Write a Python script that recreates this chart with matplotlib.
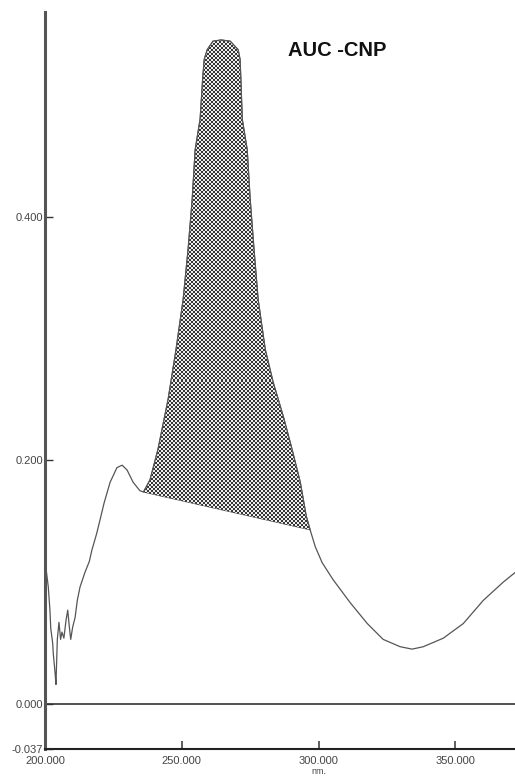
import numpy as np
import matplotlib.pyplot as plt
from matplotlib.patches import Polygon

# spectrum (nm, absorbance)
wavelength = [200.0, 201.2, 201.8, 202.1, 202.8, 203.0, 203.7, 204.0, 204.5, 205.1,
              205.7, 206.2, 206.9, 207.7, 208.3, 208.9, 209.4, 210.1, 211.0, 211.8,
              212.8, 214.6, 216.2, 217.1, 218.9, 220.1, 221.6, 223.8, 226.3, 228.2,
              230.0, 232.2, 234.7, 236.0, 238.4, 241.3, 245.0, 247.9, 250.5, 252.3,
              253.8, 254.9, 256.7, 257.6, 258.2, 259.3, 261.4, 264.4, 267.7, 270.6,
              271.3, 271.6, 272.1, 273.9, 275.0, 276.4, 277.9, 280.5, 283.4, 287.1,
              290.3, 293.3, 295.5, 296.9, 298.8, 301.3, 305.3, 311.6, 317.8, 323.6,
              329.8, 334.2, 338.3, 345.6, 352.9, 360.2, 367.5, 371.9]
absorbance = [0.118, 0.096, 0.077, 0.062, 0.050, 0.042, 0.025, 0.016, 0.053, 0.067,
              0.053, 0.059, 0.054, 0.069, 0.077, 0.063, 0.053, 0.063, 0.071, 0.085,
              0.096, 0.108, 0.117, 0.126, 0.140, 0.151, 0.165, 0.182, 0.194, 0.196,
              0.192, 0.182, 0.175, 0.174, 0.184, 0.209, 0.250, 0.291, 0.332, 0.373,
              0.414, 0.455, 0.480, 0.512, 0.529, 0.537, 0.544, 0.545, 0.544, 0.537,
              0.529, 0.512, 0.480, 0.455, 0.414, 0.373, 0.332, 0.291, 0.264, 0.236,
              0.209, 0.182, 0.154, 0.143, 0.129, 0.116, 0.102, 0.083, 0.066, 0.053,
              0.047, 0.045, 0.047, 0.054, 0.066, 0.085, 0.100, 0.108]

# AUC integration limits
auc_start = 236.0
auc_end = 296.9

xticks = [200, 250, 300, 350]
xtick_labels = ['200.000', '250.000', '300.000', '350.000']
yticks = [0.4, 0.2, 0.0, -0.037]
ytick_labels = ['0.400', '0.200', '0.000', '-0.037']

plt.rcParams['font.family'] = ['Liberation Sans', 'DejaVu Sans']

wl = np.array(wavelength)
ab = np.array(absorbance)

fig = plt.figure(figsize=(5.15, 7.77), dpi=100)
ax = fig.add_axes([0.0874, 0.0360, 0.9126, 0.9486])
ax.set_xlim(200, 371.8)
ax.set_ylim(-0.037, 0.568)

# shaded area: curve above, straight baseline between the two limits
mask = (wl >= auc_start) & (wl <= auc_end)
xs = wl[mask]
ys = ab[mask]
base = np.interp(xs, [xs[0], xs[-1]], [ys[0], ys[-1]])
verts = list(zip(xs, ys)) + list(zip(xs[::-1], base[::-1]))
poly = Polygon(verts, closed=True, facecolor='none', edgecolor='#444444', lw=0.8)
ax.add_patch(poly)

# checkerboard texture clipped to the area
h, w = 737, 470
checker = np.add.outer(np.arange(h) // 2, np.arange(w) // 2) % 2
img = ax.imshow(checker, cmap='gray', vmin=-0.3, vmax=1.1, extent=[200, 371.8, -0.037, 0.568],
                aspect='auto', interpolation='nearest', origin='upper', zorder=1)
img.set_clip_path(poly)

ax.plot(wl, ab, color='#555555', lw=0.9, zorder=3)
ax.axhline(0, color='#333333', lw=1.2, zorder=2)

for s in ['top', 'right']:
    ax.spines[s].set_visible(False)
ax.spines['left'].set_linewidth(2.2)
ax.spines['left'].set_color('#555555')
ax.spines['bottom'].set_linewidth(1.5)
ax.spines['bottom'].set_color('#222222')

ax.set_xticks(xticks)
ax.set_xticklabels(xtick_labels)
ax.set_yticks(yticks)
ax.set_yticklabels(ytick_labels)
ax.tick_params(axis='x', direction='in', length=6, width=1.1, color='#333333',
               labelsize=8, labelcolor='#444444', pad=5)
ax.tick_params(axis='y', direction='in', length=5.5, width=1.0, color='#333333',
               labelsize=8, labelcolor='#444444', pad=1.5)

ax.text(300, -0.030, 'nm.', transform=ax.get_xaxis_transform(), ha='center', va='center',
        fontsize=6.5, color='#444444')
ax.text(288.8, 0.536, 'AUC -CNP', ha='left', va='center', fontsize=14.5, fontweight='bold',
        color='#111111')

fig.savefig('out.png', dpi=100)
